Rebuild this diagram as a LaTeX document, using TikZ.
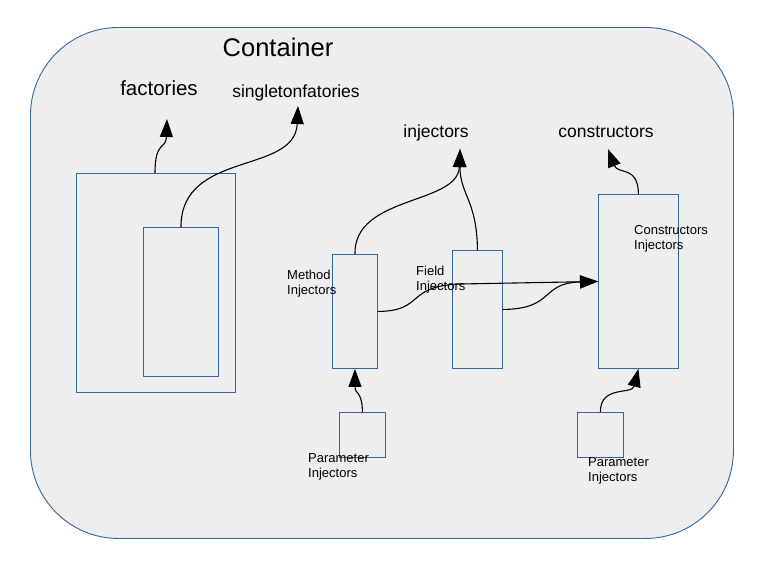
\documentclass[tikz,border=0pt]{standalone}
\usepackage{fontspec}
\setmainfont{Liberation Sans}
\usetikzlibrary{arrows.meta}
\definecolor{boxblue}{HTML}{3465A4}
\definecolor{bgfill}{HTML}{EEEEEE}
\newcommand\lbl[2]{\fontsize{13}{15}\selectfont\begin{tabular}[t]{@{}l@{}}#1\\#2\end{tabular}}
\tikzset{
  box/.style={draw=boxblue, line width=0.9pt, inner sep=0, anchor=north west},
  conn/.style={draw=black, line width=1.1pt, -{Triangle[length=18pt,width=13pt]}},
  bigtitle/.style={font=\fontsize{25.5}{28}\selectfont, anchor=base, inner sep=0},
  title/.style={font=\fontsize{17.5}{20}\selectfont, anchor=base, inner sep=0},
  small/.style={anchor=base west, inner sep=0},
}
\begin{document}
\begin{tikzpicture}[x=1pt,y=-1pt]
\useasboundingbox (0,0) rectangle (765,566);
% container
\node[draw=boxblue, fill=bgfill, line width=0.9pt, rounded corners=88pt, minimum width=703pt, minimum height=511pt, inner sep=0, anchor=north west] (cont) at (30,27) {};
\node[bigtitle] (ctitle) at (278,56) {Container};

% labels
\node[title, font=\fontsize{20.5}{23}\selectfont] (lfact) at (159,95) {factories};
\node[title] (lsing) at (296,97) {singletonfatories};
\node[title] (linj) at (436,137) {injectors};
\node[title] (lcons) at (606,137) {constructors};

% boxes
\node[box, minimum width=159pt, minimum height=219pt] (fo) at (76,173) {};
\node[box, minimum width=75pt, minimum height=149pt] (fi) at (143,227) {};
\node[box, minimum width=45pt, minimum height=114pt] (meth) at (332,254) {};
\node[box, minimum width=50pt, minimum height=118pt] (field) at (452,250) {};
\node[box, minimum width=80pt, minimum height=174pt] (cons) at (598,194) {};
\node[box, minimum width=46pt, minimum height=45pt] (p1) at (339,412) {};
\node[box, minimum width=46pt, minimum height=45pt] (p2) at (577,412) {};

% small labels
\node[small] (lmeth) at (287,279) {\lbl{Method}{Injectors}};
\node[small] (lfield) at (416,275) {\lbl{Field}{Injectors}};
\node[small] (lconsinj) at (634,234) {\lbl{Constructors}{Injectors}};
\node[small] (lp1) at (308,462) {\lbl{Parameter}{Injectors}};
\node[small] (lp2) at (588,466) {\lbl{Parameter}{Injectors}};

% arrow tips
\coordinate (tfact) at (167,119);
\coordinate (tsing) at (298,106);
\coordinate (tinj) at (460,149);
\coordinate (tcons) at (608,149);

% connectors
\draw[conn] ([xshift=79pt]fo.north west) .. controls (155,140) and (166,150) .. (tfact);
\draw[conn] (fi.north) .. controls (181,150) and (295,175) .. (tsing);
\draw[conn] (meth.north) .. controls (354,195) and (458,205) .. (tinj);
\draw[conn] (field.north) .. controls (477,200) and (460,195) .. (tinj);
\draw[conn] (cons.north) .. controls (638,165) and (618,175) .. (tcons);
\draw[conn] (p1.north) .. controls (362,390) and (355,395) .. (meth.south);
\draw[conn] (p2.north) .. controls (600,385) and (632,395) .. (cons.south);
\draw[conn] (meth.east) .. controls (425,311) and (405,286) .. (460,284) -- (cons.west);
\draw[conn] (field.east) .. controls (555,309) and (540,283) .. (580,282) -- (cons.west);
\end{tikzpicture}
\end{document}
